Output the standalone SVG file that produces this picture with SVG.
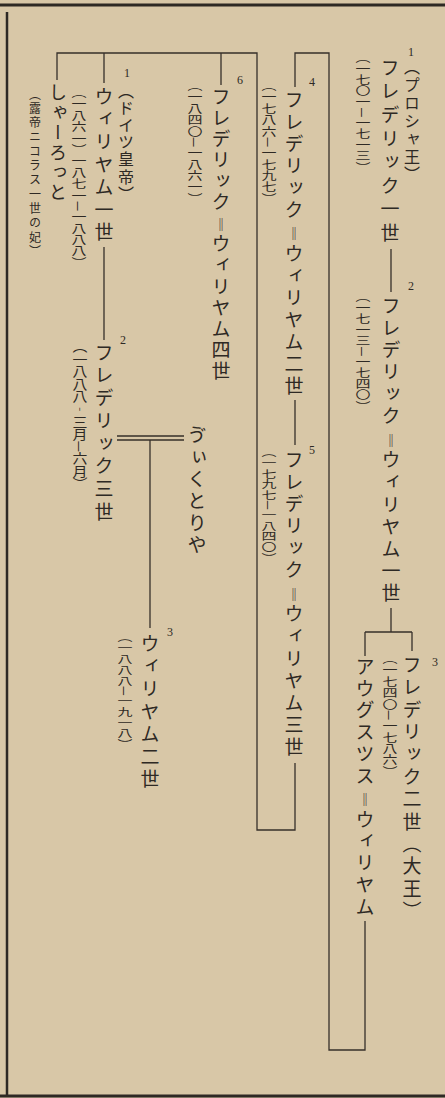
<svg xmlns="http://www.w3.org/2000/svg" width="445" height="1098" viewBox="0 0 445 1098">
<style>
.t{font-family:"Noto Sans CJK JP","Noto Sans CJK SC",sans-serif;writing-mode:vertical-rl;fill:#2e2924;}
.n{font-size:19px;}
.l{font-size:16px;}
.d{font-size:15px;}
.e{font-size:13px;letter-spacing:4px;font-weight:bold;fill:#2e2924;}
.s{font-family:"Liberation Serif",serif;font-size:12px;fill:#2e2924;text-anchor:middle;}
.c{stroke:#36302a;stroke-width:1.3;fill:none;}
.b{stroke:#2e2924;fill:none;}
</style>
<rect width="445" height="1098" fill="#d8c7a7"/>
<g id="border">
<line class="b" x1="0" y1="5" x2="445" y2="5" stroke-width="3"/>
<line class="b" x1="7" y1="12" x2="7" y2="1096" stroke-width="2.5"/>
<line class="b" x1="0" y1="1096" x2="445" y2="1096" stroke-width="3"/>
</g>
<g id="connectors">
<path class="c" d="M391 249V292"/>
<path class="c" d="M391 608V632M365 632H412M412 632V651M365 632V656"/>
<path class="c" d="M365 921V1050H329V53H295V87"/>
<path class="c" d="M295 400V445"/>
<path class="c" d="M295 763V830H257V53H57V80M104 53V83M221 53V85"/>
<path class="c" d="M104 247V340"/>
<path class="c" d="M117 436H184M117 440H184"/>
<path class="c" d="M150 440V628"/>
</g>
<g id="frederick1">
<text class="s" x="411" y="56">1</text>
<text class="t l" x="412" y="59" style="letter-spacing:1.9px">（プロシャ王）</text>
<text class="t n" x="390" y="58" style="letter-spacing:4.6px">フレデリック一世</text>
<text class="t d" transform="translate(363,52) scale(1,0.74)" x="0" y="0">（一七〇一—一七一三）</text>
</g>
<g id="frederick-william1">
<text class="s" x="411" y="290">2</text>
<text class="t n" x="391" y="296" style="letter-spacing:3.1px">フレデリック<tspan class="e" dy="5">‖</tspan>ウィリヤム一世</text>
<text class="t d" transform="translate(363,291) scale(1,0.74)" x="0" y="0">（一七一三—一七四〇）</text>
</g>
<g id="frederick2">
<text class="s" x="435" y="666">3</text>
<text class="t n" x="412" y="655" style="letter-spacing:3.4px">フレデリック二世（大王）</text>
<text class="t d" transform="translate(390,653) scale(1,0.76)" x="0" y="0">（一七四〇—一七八六）</text>
</g>
<g id="august-william">
<text class="t n" x="365" y="657" style="letter-spacing:2.8px">アウグスツス<tspan class="e" dy="5">‖</tspan>ウィリヤム</text>
</g>
<g id="frederick-william2">
<text class="s" x="312" y="86">4</text>
<text class="t n" x="294" y="90" style="letter-spacing:3px">フレデリック<tspan class="e" dy="5">‖</tspan>ウィリヤム二世</text>
<text class="t d" transform="translate(269,80) scale(1,0.76)" x="0" y="0">（一七八六—一七九七）</text>
</g>
<g id="frederick-william3">
<text class="s" x="312" y="454">5</text>
<text class="t n" x="294" y="450" style="letter-spacing:3.1px">フレデリック<tspan class="e" dy="5">‖</tspan>ウィリヤム三世</text>
<text class="t d" transform="translate(269,447) scale(1,0.71)" x="0" y="0">（一七九七—一八四〇）</text>
</g>
<g id="frederick-william4">
<text class="s" x="240" y="84">6</text>
<text class="t n" x="221" y="87" style="letter-spacing:2.1px">フレデリック<tspan class="e" dy="4">‖</tspan>ウィリヤム四世</text>
<text class="t d" transform="translate(195,80) scale(1,0.76)" x="0" y="0">（一八四〇—一八六一）</text>
</g>
<g id="william1">
<text class="s" x="127" y="77">1</text>
<text class="t l" x="126" y="83" style="letter-spacing:1.1px">（ドイツ皇帝）</text>
<text class="t n" x="104" y="87" style="letter-spacing:3.6px">ウィリヤム一世</text>
<text class="t d" transform="translate(79,87) scale(1,0.76)" x="0" y="0">（一八六一）一八七一—一八八八）</text>
</g>
<g id="charlotte">
<text class="t n" x="58" y="83" style="font-size:18px;letter-spacing:2px">しゃーろっと</text>
<text class="t" x="35" y="88" style="font-size:12px;letter-spacing:2.3px">（露帝ニコラス一世の妃）</text>
</g>
<g id="frederick3">
<text class="s" x="123" y="344">2</text>
<text class="t n" x="104" y="343" style="letter-spacing:3.75px">フレデリック三世</text>
<text class="t d" transform="translate(80,340) scale(1,0.84)" x="0" y="0">（一八八八‐三月—六月）</text>
</g>
<g id="victoria">
<text class="t n" x="197" y="425" style="letter-spacing:3px">ゔぃくとりや</text>
</g>
<g id="william2">
<text class="s" x="170" y="636">3</text>
<text class="t n" x="150" y="634" style="letter-spacing:3.6px">ウィリヤム二世</text>
<text class="t d" transform="translate(125,632) scale(1,0.72)" x="0" y="0">（一八八八—一九一八）</text>
</g>
</svg>
